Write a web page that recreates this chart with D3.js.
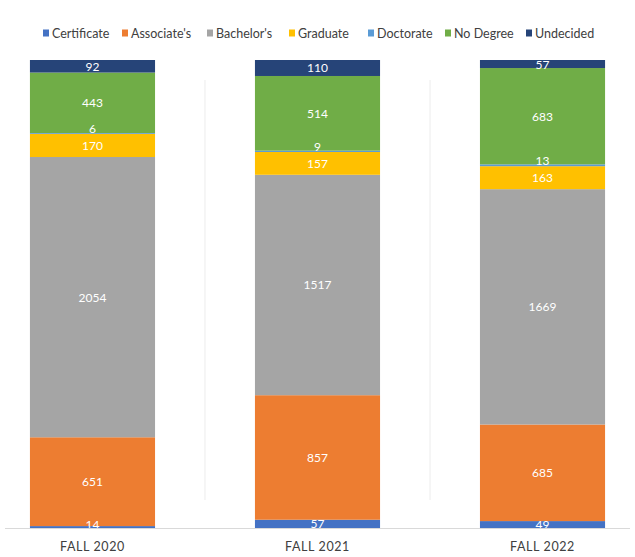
<!DOCTYPE html>
<html>
<head>
<meta charset="utf-8">
<script src="https://cdn.jsdelivr.net/npm/d3@7"></script>
<style>
  html, body { margin: 0; padding: 0; background: #fff; }
  svg { display: block; }
  text { font-family: Lato, "Open Sans", sans-serif; }
</style>
</head>
<body>
<svg id="chart" width="635" height="557"></svg>
<script>
const categories = ["FALL 2020", "FALL 2021", "FALL 2022"];
const seriesNames = ["Certificate", "Associate's", "Bachelor's", "Graduate", "Doctorate", "No Degree", "Undecided"];
const certificate = [14, 57, 49];
const associates = [651, 857, 685];
const bachelors = [2054, 1517, 1669];
const graduate = [170, 157, 163];
const doctorate = [6, 9, 13];
const noDegree = [443, 514, 683];
const undecided = [92, 110, 57];
const colors = ["#4472C4", "#ED7D31", "#A5A5A5", "#FFC000", "#5B9BD5", "#70AD47", "#264478"];

const seriesValues = [certificate, associates, bachelors, graduate, doctorate, noDegree, undecided];
const rows = categories.map((c, i) => {
  const r = { cat: c };
  seriesNames.forEach((s, j) => r[s] = seriesValues[j][i]);
  return r;
});

const svg = d3.select("#chart");
const plotTop = 60, plotBottom = 528;

const x = d3.scaleBand().domain(categories).range([8, 627]).paddingInner(0.444).paddingOuter(0.0975);
const y = d3.scaleLinear().domain([0, 1]).range([plotBottom, plotTop]);

const stack = d3.stack().keys(seriesNames).offset(d3.stackOffsetExpand);
const stacked = stack(rows);

// faint vertical separators
[0, 1].forEach(i => {
  const xm = (x(categories[i]) + x.bandwidth() + x(categories[i + 1])) / 2;
  svg.append("line").attr("x1", xm).attr("x2", xm).attr("y1", 80).attr("y2", 500)
    .attr("stroke", "#ececec").attr("stroke-width", 1);
});

const layers = svg.append("g").selectAll("g").data(stacked).join("g")
  .attr("fill", (d, i) => colors[i]);
layers.selectAll("rect").data(d => d).join("rect")
  .attr("x", d => x(d.data.cat))
  .attr("width", x.bandwidth())
  .attr("y", d => y(d[1]))
  .attr("height", d => y(d[0]) - y(d[1]));

// labels
const labelG = svg.append("g");
stacked.forEach((layer) => {
  layer.forEach(d => {
    const key = layer.key;
    let cy = (y(d[0]) + y(d[1])) / 2;
    if (key === "Doctorate") cy -= 5;
    if (key === "Certificate") cy = Math.min(cy, plotBottom - 4);
    labelG.append("text")
      .attr("x", x(d.data.cat) + x.bandwidth() / 2)
      .attr("y", cy)
      .attr("text-anchor", "middle")
      .attr("dominant-baseline", "central")
      .attr("fill", "#fff")
      .attr("font-size", 12)
      .text(d.data[key]);
  });
});

// baseline
svg.append("line").attr("x1", 5).attr("x2", 630).attr("y1", plotBottom + 0.5).attr("y2", plotBottom + 0.5)
  .attr("stroke", "#d9d9d9").attr("stroke-width", 1);

// x axis
const xAxis = d3.axisBottom(x).tickSize(0).tickPadding(14);
const ax = svg.append("g").attr("transform", `translate(0,${plotBottom})`).call(xAxis);
ax.select(".domain").remove();
ax.selectAll("text").attr("font-size", 12.5).attr("fill", "#404040")
  .attr("font-family", "Lato, 'Open Sans', sans-serif").attr("letter-spacing", 0.6);

// legend
const legendX = [43, 122, 207, 289, 368, 445, 526];
const leg = svg.append("g");
seriesNames.forEach((s, i) => {
  const g = leg.append("g").attr("transform", `translate(${legendX[i]},33)`);
  g.append("rect").attr("x", 0).attr("y", -3.5).attr("width", 6).attr("height", 7).attr("fill", colors[i]);
  g.append("text").attr("x", 9).attr("y", 0).attr("dominant-baseline", "central")
    .attr("font-size", 12.5).attr("fill", "#404040").text(s);
});
</script>
</body>
</html>
